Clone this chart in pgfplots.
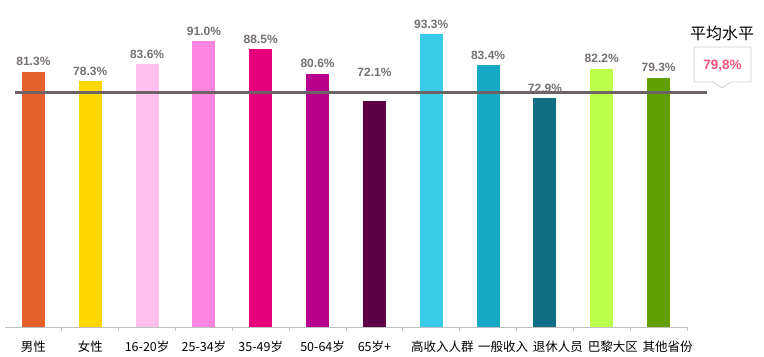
\documentclass[border=0pt]{standalone}
\usepackage{pgfplots}
\pgfplotsset{compat=1.18}
\usepackage{fontspec}
\setmainfont{Liberation Sans}
\newfontfamily\cjk{Noto Sans CJK SC}
\definecolor{c1}{HTML}{E55F2A}
\definecolor{c2}{HTML}{FFD700}
\definecolor{c3}{HTML}{FFBFEF}
\definecolor{c4}{HTML}{FF85E0}
\definecolor{c5}{HTML}{E6007E}
\definecolor{c6}{HTML}{B8008F}
\definecolor{c7}{HTML}{5E0046}
\definecolor{c8}{HTML}{38CCEA}
\definecolor{c9}{HTML}{16A8C7}
\definecolor{c10}{HTML}{106F84}
\definecolor{c11}{HTML}{BBFF4A}
\definecolor{c12}{HTML}{62A000}
\definecolor{lblgray}{HTML}{767071}
\definecolor{avgline}{HTML}{6D6264}
\definecolor{axgray}{HTML}{BFBFBF}
\definecolor{boxpink}{HTML}{F4547C}
\definecolor{boxborder}{HTML}{D5CBCE}
\begin{document}
\begin{tikzpicture}
\useasboundingbox (0,0) rectangle (764bp,357bp);
\begin{axis}[
  at={(5bp,30bp)}, anchor=south west,
  scale only axis, width=682bp, height=314bp,
  xmin=-0.5, xmax=11.5, ymin=0, ymax=100,
  axis x line=bottom, axis y line=none,
  x axis line style={draw=axgray, line width=0.8bp, -},
  xtick={0,...,11},
  xticklabels={男性,女性,16-20岁,25-34岁,35-49岁,\hspace*{10bp}50-64岁,65岁+,\hspace*{22bp}高收入人群,\hspace*{30bp}一般收入,\hspace*{26bp}退休人员,\hspace*{22bp}巴黎大区,\hspace*{18bp}其他省份},
  major tick length=0pt,
  minor xtick={0.5,1.5,...,11.5},
  minor tick length=4bp,
  tick align=outside,
  minor tick style={draw=axgray, line width=0.8bp},
  xticklabel style={font=\cjk\fontsize{12.5bp}{15bp}\selectfont, anchor=base, yshift=-24bp, inner sep=0pt},
  clip=false,
  /pgf/number format/assume math mode=true,
  every node near coord/.append style={font=\bfseries\fontsize{12bp}{13bp}\selectfont, text=lblgray, anchor=base, yshift=6bp, inner sep=0pt},
  nodes near coords={\pgfmathprintnumber[fixed,fixed zerofill,precision=1,assume math mode=true]{\pgfplotspointmeta}\%},
]
\addplot[ybar, bar shift=0pt, bar width=23bp, fill=c1, draw=none] coordinates {(0,81.3)};
\addplot[ybar, bar shift=0pt, bar width=23bp, fill=c2, draw=none] coordinates {(1,78.3)};
\addplot[ybar, bar shift=0pt, bar width=23bp, fill=c3, draw=none] coordinates {(2,83.6)};
\addplot[ybar, bar shift=0pt, bar width=23bp, fill=c4, draw=none] coordinates {(3,91.0)};
\addplot[ybar, bar shift=0pt, bar width=23bp, fill=c5, draw=none] coordinates {(4,88.5)};
\addplot[ybar, bar shift=0pt, bar width=23bp, fill=c6, draw=none] coordinates {(5,80.6)};
\addplot[ybar, bar shift=0pt, bar width=23bp, fill=c7, draw=none, every node near coord/.append style={yshift=18bp}] coordinates {(6,72.1)};
\addplot[ybar, bar shift=0pt, bar width=23bp, fill=c8, draw=none] coordinates {(7,93.3)};
\addplot[ybar, bar shift=0pt, bar width=23bp, fill=c9, draw=none] coordinates {(8,83.4)};
\addplot[ybar, bar shift=0pt, bar width=23bp, fill=c10, draw=none] coordinates {(9,72.9)};
\addplot[ybar, bar shift=0pt, bar width=23bp, fill=c11, draw=none] coordinates {(10,82.2)};
\addplot[ybar, bar shift=0pt, bar width=23bp, fill=c12, draw=none] coordinates {(11,79.3)};
\addplot[sharp plot, no markers, nodes near coords={}, draw=avgline, line width=3bp] coordinates {(-0.324,74.8) (11.85,74.8)};
\end{axis}
\node[font=\cjk\fontsize{16bp}{18bp}\selectfont, text=black, inner sep=0pt] at (722bp,324bp) {平均水平};
\draw[boxborder, line width=0.8bp, fill=white] (694bp,310bp) -- (751bp,310bp) -- (751bp,275bp) -- (731bp,275bp) -- (722bp,269bp) -- (713bp,275bp) -- (694bp,275bp) -- cycle;
\node[font=\bfseries\fontsize{13.5bp}{15bp}\selectfont, text=boxpink, inner sep=0pt] at (722.5bp,291bp) {79,8\%};
\end{tikzpicture}
\end{document}
